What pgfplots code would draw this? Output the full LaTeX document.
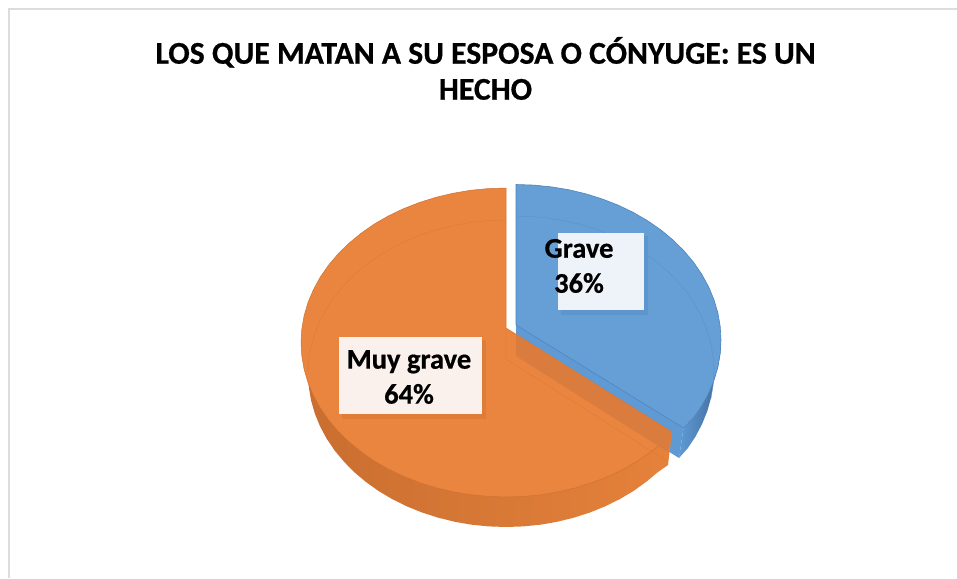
\documentclass[border=0pt]{standalone}
\usepackage{fontspec}
\setmainfont{Carlito}[BoldFeatures={FakeBold=0.6}]
\usepackage{pgfplots}
\pgfplotsset{compat=1.18}
\definecolor{frameg}{HTML}{DCDCDC}
\definecolor{bluetop}{HTML}{659FD6}
\definecolor{blueedge}{HTML}{4D84BC}
\definecolor{bluecut}{HTML}{5F9AD5}
\definecolor{bluedark}{HTML}{3F6B98}
\definecolor{bluefaint}{HTML}{5C92C7}
\definecolor{orangetop}{HTML}{E9853F}
\definecolor{orangeedge}{HTML}{D0722F}
\definecolor{orangeleft}{HTML}{C96E30}
\definecolor{orangeright}{HTML}{E5823B}
\definecolor{orangeband}{HTML}{D97C3D}
\definecolor{orangefaint}{HTML}{DB7C39}
\definecolor{boxblue}{HTML}{EEF2F9}
\definecolor{boxorange}{HTML}{FBF1EC}
\begin{document}
\begin{tikzpicture}
\begin{axis}[
  width=957pt,height=578pt,scale only axis,hide axis,
  xmin=0,xmax=957,ymin=0,ymax=578,y dir=reverse,
  enlargelimits=false,clip=true]
% whole canvas
\addplot[draw=none,fill=white] coordinates {(0,0)(957,0)(957,578)(0,578)} --cycle;
% frame
\addplot[draw=frameg,line width=2pt] coordinates {(9,578) (9,9.5) (957,9.5)};
% blue slice (36%): outer wall
\addplot[left color=bluecut,right color=bluedark,draw=none] coordinates {
(721,340)(720.2,353.6)(717.9,367)(714,380.2)(708.6,393.2)(701.8,405.7)(693.5,417.8)(683.5,428)
(679,458)(687.5,448.5)(695.5,436.5)(702.1,424)(707.3,411.1)(711,397.9)(713.2,384.5)(714,371)} --cycle;
% blue slice: cut wall
\addplot[fill=bluecut,draw=none] coordinates {(516,325)(683.5,428)(679,458)(516,356)} --cycle;
% blue slice: top
\addplot[fill=bluetop,draw=blueedge,line width=0.6pt] coordinates {
(516,325)(516,184.5)(533.9,185.1)(551.6,186.9)(569.1,189.8)(586.1,193.9)(602.6,199.1)(618.5,205.3)
(633.6,212.6)(647.8,220.9)(661,230)(673,240)(683.9,250.8)(693.5,262.2)(701.8,274.3)(708.6,286.8)
(714,299.8)(717.9,313)(720.2,326.4)(721,340)(720.2,353.6)(717.9,367)(714,380.2)(708.6,393.2)
(701.8,405.7)(693.5,417.8)(683.5,428)} --cycle;
% blue inner rim
\addplot[draw=bluefaint,line width=0.4pt] coordinates {
(516,216)(533.3,216.6)(550.4,218.4)(567.2,221.3)(583.7,225.3)(599.7,230.5)(615,236.8)(629.6,244)
(643.3,252.3)(656,261.4)(667.7,271.4)(678.2,282.1)(687.5,293.5)(695.5,305.5)(702.1,318)(707.3,330.9)
(711,344.1)(713.2,357.5)(714,371)(713.2,384.5)(711,397.9)};
% orange slice (64%): outer wall
\addplot[left color=orangeleft,right color=orangeright,draw=none] coordinates {
(672,432)(668,465)(657.7,472.2)(646,482)(633.3,491.1)(619.6,499.2)(605,506.4)(589.7,512.6)(573.7,517.7)
(557.2,521.8)(540.4,524.7)(523.3,526.4)(506,527)(488.7,526.4)(471.6,524.7)(454.8,521.8)(438.3,517.7)
(422.3,512.6)(407,506.4)(392.4,499.2)(378.7,491.1)(366,482)(354.3,472.2)(343.8,461.5)(334.5,450.3)
(326.5,438.4)(319.9,426)(314.7,413.2)(311,400.2)(308.8,386.9)(308,373.5)(301,342.5)(506,342.5)} --cycle;
% orange slice: top
\addplot[fill=orangetop,draw=orangeedge,line width=0.5pt] coordinates {
(506,328)(672,432)(663,441.8)(651,451.7)(637.8,460.9)(623.6,469.1)(608.5,476.3)(592.6,482.5)(576.1,487.7)
(559.1,491.7)(541.6,494.7)(523.9,496.4)(506,497)(488.1,496.4)(470.4,494.7)(452.9,491.7)(435.9,487.7)
(419.4,482.5)(403.5,476.3)(388.4,469.1)(374.2,460.9)(361,451.7)(349,441.8)(338.1,431.1)(328.5,419.8)
(320.2,407.8)(313.4,395.3)(308,382.5)(304.1,369.3)(301.8,356)(301,342.5)(301.8,329)(304.1,315.7)
(308,302.5)(313.4,289.7)(320.2,277.2)(328.5,265.2)(338.1,253.9)(349,243.2)(361,233.3)(374.2,224.1)
(388.4,215.9)(403.5,208.7)(419.4,202.5)(435.9,197.3)(452.9,193.3)(470.4,190.3)(488.1,188.6)(506,188)} --cycle;
% cut wall of the blue slice, seen through the orange
\addplot[fill=orangeband,draw=none] coordinates {(516,334)(516,356)(668,452)(672,432)} --cycle;
% orange inner rim
\addplot[draw=orangefaint,line width=0.4pt] coordinates {
(308,373.5)(308.8,360.1)(311,346.8)(314.7,333.8)(319.9,321)(326.5,308.6)(334.5,296.7)(343.8,285.5)
(354.3,274.8)(366,265)(378.7,255.9)(392.4,247.8)(407,240.6)(422.3,234.4)(438.3,229.3)(454.8,225.2)
(471.6,222.3)(488.7,220.6)(506,220)};
\addplot[draw=orangefaint,line width=0.4pt] coordinates {(506,328)(506,359)(667,461)};
% label boxes with their shadows
\addplot[fill=blueedge!35!bluetop,draw=none] coordinates {(561,236)(648,236)(648,315)(561,315)} --cycle;
\addplot[fill=boxblue,draw=none] coordinates {(558,233)(644,233)(644,310)(558,310)} --cycle;
\addplot[fill=orangeedge!45!orangetop,draw=none] coordinates {(342,340)(486,340)(486,419)(342,419)} --cycle;
\addplot[fill=boxorange,draw=none] coordinates {(339,337)(482,337)(482,414)(339,414)} --cycle;
% texts
\node[font=\bfseries\fontsize{31.7}{36}\selectfont,align=center,anchor=center] at (axis cs:485.5,68.5) {LOS QUE MATAN A SU ESPOSA O CÓNYUGE: ES UN\\HECHO};
\node[font=\bfseries\fontsize{28.5}{35}\selectfont,align=center,anchor=center] at (axis cs:579,266) {Grave\\36\%};
\node[font=\bfseries\fontsize{28.5}{35}\selectfont,align=center,anchor=center] at (axis cs:409,377) {Muy grave\\64\%};
\end{axis}
\end{tikzpicture}
\end{document}
